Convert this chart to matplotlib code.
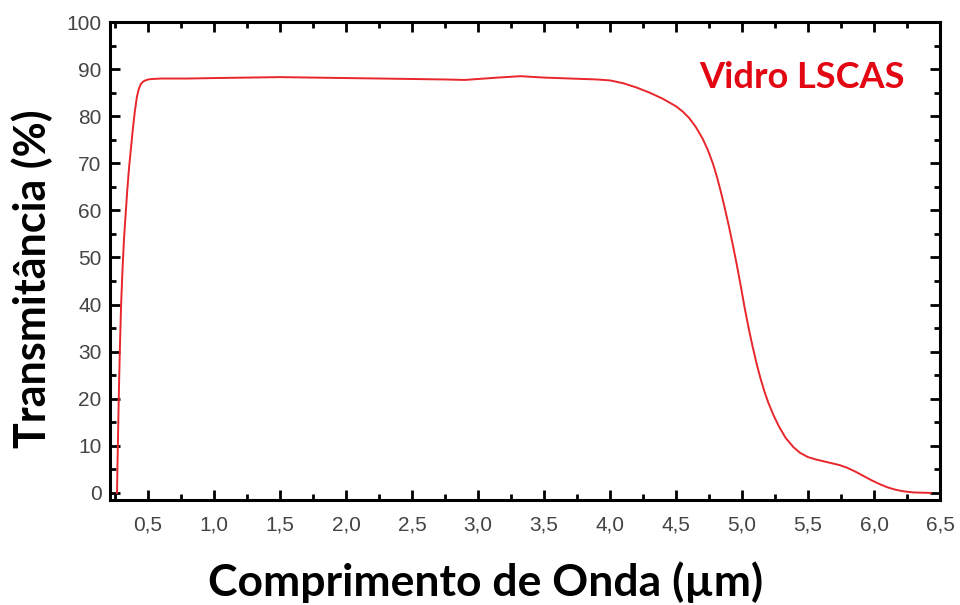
import numpy as np
import matplotlib.pyplot as plt
from matplotlib.ticker import MultipleLocator, FormatStrFormatter, FuncFormatter

# wavelength (um) and transmittance (%)
wavelength = [0.265, 0.270, 0.276, 0.282, 0.288, 0.296, 0.306, 0.318, 0.330, 0.342,
              0.356, 0.370, 0.384, 0.400, 0.415, 0.430, 0.445, 0.460, 0.480, 0.500,
              0.530, 0.600, 0.800, 1.000, 1.250, 1.500, 1.750, 2.000, 2.260, 2.500,
              2.750, 2.900, 3.000, 3.150, 3.320, 3.500, 3.700, 3.900, 4.000, 4.100,
              4.200, 4.300, 4.400, 4.500, 4.550, 4.600, 4.650, 4.700, 4.740, 4.780,
              4.810, 4.840, 4.870, 4.900, 4.930, 4.960, 4.990, 5.020, 5.050, 5.080,
              5.110, 5.140, 5.170, 5.200, 5.240, 5.280, 5.330, 5.390, 5.440, 5.500,
              5.560, 5.620, 5.680, 5.740, 5.800, 5.860, 5.920, 5.980, 6.040, 6.100,
              6.160, 6.220, 6.300, 6.430]
transmittance = [0.0, 8.0, 17.0, 25.0, 32.0, 40.0, 47.0, 54.0, 59.0, 64.0,
                 69.0, 73.0, 77.0, 81.0, 84.0, 85.8, 86.8, 87.3, 87.6, 87.8,
                 87.9, 88.0, 88.0, 88.1, 88.2, 88.3, 88.2, 88.1, 88.0, 87.9,
                 87.8, 87.7, 87.9, 88.2, 88.5, 88.2, 88.0, 87.8, 87.6, 87.0,
                 86.1, 85.0, 83.7, 82.1, 81.0, 79.6, 77.7, 75.3, 72.9, 69.9,
                 67.1, 63.9, 60.4, 56.7, 52.7, 48.5, 44.0, 39.3, 35.0, 31.1,
                 27.5, 24.3, 21.5, 19.1, 16.4, 14.1, 11.7, 9.7, 8.5, 7.6,
                 7.1, 6.7, 6.3, 5.9, 5.3, 4.5, 3.6, 2.7, 1.9, 1.2,
                 0.7, 0.35, 0.1, 0.0]

plt.rcParams['font.family'] = ['Liberation Sans', 'DejaVu Sans']

fig = plt.figure(figsize=(9.6, 6.05), dpi=100)
ax = fig.add_axes([0.1146, 0.1736, 0.8646, 0.79])

ax.plot(wavelength, transmittance, color='#e8262b', linewidth=1.4)

ax.set_xlim(0.212, 6.5)
ax.set_ylim(-1.5, 100)

ax.xaxis.set_major_locator(MultipleLocator(0.5))
ax.xaxis.set_minor_locator(MultipleLocator(0.25))
ax.yaxis.set_major_locator(MultipleLocator(10))
ax.yaxis.set_minor_locator(MultipleLocator(5))
ax.xaxis.set_major_formatter(FuncFormatter(lambda v, p: f"{v:.1f}".replace('.', ',')))
ax.yaxis.set_major_formatter(FormatStrFormatter('%d'))

ax.tick_params(which='both', direction='in', top=True, right=True, width=2.0,
               colors='black', labelcolor='#444444', labelsize=15)
ax.tick_params(which='major', length=7.5)
ax.tick_params(which='minor', length=4.5)
ax.tick_params(axis='x', which='major', pad=11)
ax.tick_params(axis='y', which='major', pad=6)

for s in ax.spines.values():
    s.set_linewidth(2.2)

ax.set_xlabel('Comprimento de Onda (µm)', family=['Lato', 'DejaVu Sans'],
              fontweight='bold', fontsize=32, va='center')
ax.xaxis.set_label_coords(0.452, -0.172)
ax.set_ylabel('Transmitância (%)', family=['Lato', 'DejaVu Sans'],
              fontweight='bold', fontsize=31, va='center')
ax.yaxis.set_label_coords(-0.094, 0.462)

ax.text(0.834, 0.883, 'Vidro LSCAS', transform=ax.transAxes, ha='center', va='center',
        color='#e30613', fontsize=26, fontweight='bold', family=['Lato', 'DejaVu Sans'])

fig.savefig('out.png', dpi=100)
